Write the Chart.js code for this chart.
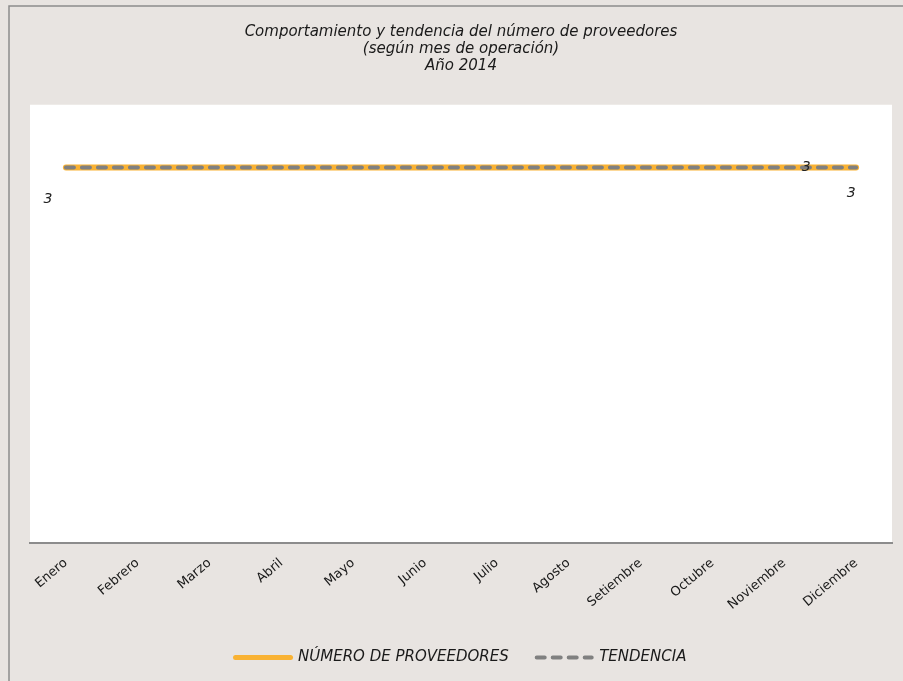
<!DOCTYPE html>
<html>
<head>
<meta charset="utf-8">
<script src="https://cdn.jsdelivr.net/npm/chart.js@4"></script>
<style>
  html, body { margin: 0; padding: 0; background: #e8e4e1; }
  #wrap { width: 903px; height: 681px; }
</style>
</head>
<body>
<div id="wrap"><canvas id="c" width="903" height="681"></canvas></div>
<script>
// data
const meses = ["Enero", "Febrero", "Marzo", "Abril", "Mayo", "Junio", "Julio",
  "Agosto", "Setiembre", "Octubre", "Noviembre", "Diciembre"];
const proveedores = [3, 3, 3, 3, 3, 3, 3, 3, 3, 3, 3, 3];
const tendencia = [3, 3, 3, 3, 3, 3, 3, 3, 3, 3, 3, 3];
const titulo = ["Comportamiento y tendencia del número de proveedores",
  "(según mes de operación)", "Año 2014"];

const FONT = "DejaVu Sans";

// background, plot area, frame
const fondo = {
  id: "fondo",
  beforeDraw(chart) {
    const ctx = chart.ctx, a = chart.chartArea;
    ctx.save();
    ctx.fillStyle = "#e8e4e1";
    ctx.fillRect(0, 0, chart.width, chart.height);
    ctx.fillStyle = "#ffffff";
    ctx.fillRect(a.left, a.top, a.right - a.left, a.bottom - a.top);
    ctx.strokeStyle = "#8c8c8c";
    ctx.lineWidth = 1.5;
    ctx.beginPath();
    ctx.moveTo(9, chart.height);
    ctx.lineTo(9, 6);
    ctx.lineTo(chart.width, 6);
    ctx.stroke();
    ctx.restore();
  }
};

// the "3" labels as excel placed them
const etiquetas = {
  id: "etiquetas",
  afterDatasetsDraw(chart) {
    const ctx = chart.ctx;
    const pts = chart.getDatasetMeta(0).data;
    const x = chart.scales.x;
    ctx.save();
    ctx.font = "italic 14px '" + FONT + "'";
    ctx.fillStyle = "#222";
    ctx.textAlign = "center";
    ctx.textBaseline = "middle";
    ctx.fillText(String(proveedores[0]), pts[0].x - 18, pts[0].y + 32);
    ctx.fillText(String(proveedores[11]), pts[11].x - 5, pts[11].y + 26);
    const xm = (x.getPixelForValue(10) + x.getPixelForValue(11)) / 2;
    ctx.fillText(String(tendencia[10]), xm - 14, pts[10].y);
    ctx.restore();
  }
};

new Chart(document.getElementById("c"), {
  type: "line",
  data: {
    labels: meses,
    datasets: [{
      label: "NÚMERO DE PROVEEDORES",
      data: proveedores,
      borderColor: "#f9b233",
      backgroundColor: "#f9b233",
      borderWidth: 6,
      borderCapStyle: "round",
      pointRadius: 0,
      order: 2
    }, {
      label: "TENDENCIA",
      data: tendencia,
      borderColor: "#808080",
      backgroundColor: "#808080",
      borderWidth: 4,
      borderDash: [8, 8],
      borderCapStyle: "round",
      pointRadius: 0,
      order: 1
    }]
  },
  options: {
    responsive: false,
    animation: false,
    layout: { padding: { left: 30, right: 11, top: 10, bottom: 6 } },
    plugins: {
      title: {
        display: true,
        text: titulo,
        color: "#1a1a1a",
        font: { family: FONT, size: 15, style: "italic", weight: "normal", lineHeight: 1.15 },
        padding: { top: 13, bottom: 30 }
      },
      legend: {
        position: "bottom",
        labels: {
          usePointStyle: true,
          pointStyle: "line",
          pointStyleWidth: 55,
          color: "#1a1a1a",
          font: { family: FONT, size: 15, style: "italic" },
          padding: 28,
          sort: (a, b) => a.datasetIndex - b.datasetIndex,
          generateLabels(chart) {
            const items = Chart.defaults.plugins.legend.labels.generateLabels(chart);
            items.forEach(it => {
              const ds = chart.data.datasets[it.datasetIndex];
              it.lineDash = ds.borderDash || [];
              it.lineWidth = it.datasetIndex === 0 ? 5 : 4;
              it.lineCap = "round";
              it.strokeStyle = ds.borderColor;
            });
            return items;
          }
        }
      },
      tooltip: { enabled: false }
    },
    scales: {
      x: {
        offset: true,
        grid: { display: false },
        border: { color: "#8c8c8c", width: 2 },
        ticks: {
          color: "#1a1a1a",
          font: { family: FONT, size: 13 },
          maxRotation: 40,
          minRotation: 40,
          padding: 4
        },
        afterFit(scale) { scale.height += 5; }
      },
      y: {
        display: false,
        min: 0,
        max: 3.5
      }
    }
  },
  plugins: [fondo, etiquetas]
});
</script>
</body>
</html>
